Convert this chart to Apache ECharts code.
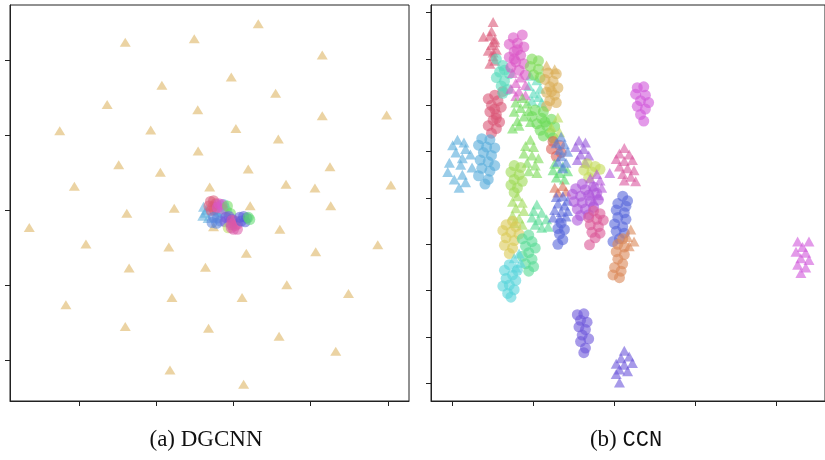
<!DOCTYPE html>
<html>
<head>
<meta charset="utf-8">
<script src="https://cdn.jsdelivr.net/npm/echarts@6/dist/echarts.min.js"></script>
<style>html,body{margin:0;padding:0;background:#fff}#c{width:825px;height:460px}</style>
</head>
<body>
<div id="c"></div>
<script>
// ---------- tick values ----------
const dgXTicks = [-40, -20, 0, 20, 40];
const dgYTicks = [-40, -20, 0, 20, 40];
const ccnXTicks = [-20, -10, 0, 10, 20];
const ccnYTicks = [-40, -30, -20, -10, 0, 10, 20, 30, 40];

// ---------- panel titles ----------
const titleA = ['(a) ', 'DGCNN'];
const titleB = ['(b) ', 'CCN'];

// ---------- (a) DGCNN data ----------
const dgTanTri = [
  [6.4,49.8],[-28.1,44.9],[-10.2,45.8],[23.0,41.5],[-0.6,35.6],[-18.6,33.4],[10.9,31.3],[-32.8,28.3],
  [-9.3,26.9],[23.0,25.3],[39.7,25.5],[-45.1,21.3],[-21.5,21.5],[0.6,21.9],[11.6,19.1],[-9.2,15.9],
  [-29.8,12.2],[25.0,11.7],[-19.0,10.2],[3.8,11.1],[-41.3,6.5],[-6.2,6.3],[13.6,7.0],[21.1,6.0],
  [40.8,6.8],[4.3,1.3],[25.2,1.3],[-27.7,-0.7],[-15.4,0.6],[-53.0,-4.5],[12.0,-5.0],[-5.2,-4.3],
  [-38.3,-8.9],[-16.8,-9.7],[37.4,-9.1],[3.3,-11.4],[21.3,-11.0],[-27.1,-15.3],[-7.3,-15.1],[13.8,-19.8],
  [29.8,-22.1],[-43.5,-25.1],[-16.0,-23.2],[2.2,-23.2],[-28.1,-30.9],[-6.5,-31.4],[11.8,-33.5],[26.5,-37.5],
  [-16.5,-42.5],[2.6,-46.3]
];
const dgLightBlueTri = [[-7.8,1.0],[-7.4,-0.6],[-6.6,-2.0],[-8.0,-1.4],[-7.0,0.2]];
const dgCyan = [[-3.4,1.2],[-2.4,0.8],[-4.2,-0.2],[-3.0,-0.6],[-1.8,-0.2],[-2.6,1.6]];
const dgRed = [[-6.0,2.4],[-5.2,2.6],[-6.4,1.2],[-5.4,1.0],[-4.6,1.8],[-5.8,0.0],[-5.0,0.2]];
const dgMagenta = [[-3.8,1.8],[-3.0,1.6],[-4.2,0.8],[-2.8,0.4]];
const dgLime = [[-1.6,1.2],[-0.8,-0.8]];
const dgBlue = [[-5.2,-1.8],[-4.2,-2.0],[-5.6,-3.2],[-4.4,-3.4],[-3.4,-2.8]];
const dgPurple = [[-2.0,-1.8],[-1.2,-1.6],[-2.2,-3.0],[-1.0,-3.2],[-0.4,-2.4]];
const dgYellow = [[-1.4,-4.6]];
const dgPink = [[-0.4,-2.6],[0.4,-2.8],[-0.6,-3.8],[0.4,-4.0],[1.0,-3.6],[0.0,-5.0],[1.0,-5.0],[-0.6,-4.6]];
const dgIndigo = [[1.6,-1.8],[2.6,-1.6],[3.4,-2.0],[2.0,-2.8],[3.0,-3.0]];
const dgGreen = [[3.8,-1.8],[4.2,-2.4]];

// ---------- (b) CCN data ----------
const ccnCrimsonTri = [[-15.0,38.0],[-16.2,34.8],[-15.4,35.0],[-14.8,34.2],[-15.2,33.0],[-14.6,32.0],[-15.6,31.8],[-15.0,30.6],[-14.8,29.6],[-15.4,29.0],[-15.0,31.4],[-14.8,33.6],[-15.2,36.0]];
const ccnCrimsonCirc = [[-13.8,23.0],[-14.8,22.2],[-15.6,21.4],[-14.4,21.0],[-15.2,20.0],[-14.0,19.6],[-15.4,18.6],[-14.6,18.0],[-15.0,16.8],[-14.2,16.4],[-15.6,15.6],[-14.6,15.0],[-15.2,14.0],[-14.8,19.2],[-14.6,17.2]];
const ccnTurqCirc = [[-14.6,30.0],[-13.8,28.6],[-14.2,27.2],[-13.0,26.8],[-14.6,26.0],[-13.6,25.2],[-14.0,24.2],[-13.2,23.4],[-13.8,22.6],[-13.6,27.6]];
const ccnTurqTri = [[-10.4,26.4],[-9.6,25.4],[-10.6,24.2],[-9.2,23.6],[-10.0,22.6],[-9.4,21.8],[-10.2,21.0],[-9.0,20.6]];
const ccnMagCirc = [[-12.5,34.6],[-11.4,35.2],[-13.0,33.2],[-12.0,33.4],[-11.2,32.6],[-12.4,31.6],[-13.0,30.4],[-11.6,30.8],[-12.2,29.4],[-11.2,29.0],[-12.8,28.2],[-11.8,27.6],[-11.0,26.6],[-12.0,32.0],[-12.4,30.0]];
const ccnMagTri = [[-12.6,27.0],[-11.6,26.0],[-12.2,24.8],[-11.0,24.4],[-12.8,23.6],[-11.8,23.0],[-11.0,22.2],[-12.2,22.0]];
const ccnLimeTopCirc = [[-10.2,30.0],[-9.4,29.6],[-10.4,28.4],[-9.4,27.8],[-10.0,26.6],[-9.2,26.0]];
const ccnTanCirc = [[-8.2,27.0],[-7.2,26.8],[-8.6,25.6],[-7.6,25.2],[-8.0,24.0],[-7.0,23.8],[-8.4,22.8],[-7.4,22.2],[-8.0,21.0],[-7.2,20.6],[-8.4,19.8],[-7.8,23.0]];
const ccnTanTri = [[-8.4,28.6],[-7.4,27.8]];
const ccnGreenTri = [[-11.4,21.6],[-12.2,20.6],[-10.8,20.4],[-11.6,19.4],[-12.4,18.6],[-10.6,18.8],[-11.2,17.6],[-12.0,16.6],[-10.4,16.4],[-11.8,15.6],[-12.6,15.0]];
const ccnGreenCirc = [[-9.8,19.0],[-8.8,18.6],[-10.2,17.6],[-9.0,17.2],[-7.8,17.0],[-9.6,16.0],[-8.4,15.6],[-7.4,15.4],[-9.2,14.6],[-8.0,14.0],[-8.8,13.4],[-7.6,13.0],[-8.6,16.4]];
const ccnYgTri = [[-7.0,17.4],[-7.8,15.2],[-6.8,14.2],[-7.4,12.8]];
const ccnSkyTri = [[-19.4,12.6],[-18.6,12.0],[-20.0,11.4],[-18.4,10.6],[-19.6,9.8],[-17.8,9.4],[-18.8,8.6],[-20.4,7.6],[-19.0,7.2],[-17.6,6.6],[-20.6,5.6],[-18.8,5.0],[-19.8,4.0],[-18.4,3.4],[-19.2,2.2]];
const ccnSkyCirc = [[-16.4,12.8],[-15.4,12.6],[-16.8,11.4],[-15.8,11.0],[-14.8,10.8],[-16.2,9.8],[-15.2,9.2],[-16.6,8.2],[-15.6,7.8],[-14.8,7.0],[-16.4,6.4],[-15.4,5.8],[-16.8,4.8],[-15.6,4.0],[-16.0,3.0]];
const ccnLimeTri = [[-10.4,12.6],[-11.0,11.2],[-10.0,11.0],[-11.2,9.6],[-10.2,9.2],[-9.4,8.6],[-10.8,7.6],[-9.8,7.0],[-10.6,5.8],[-9.6,5.4]];
const ccnRedOrCirc = [[-7.6,12.2],[-6.8,11.4],[-7.8,10.6],[-6.6,9.8],[-7.2,9.0]];
const ccnAzureTri = [[-6.6,13.2],[-7.2,11.8],[-6.2,11.6],[-6.8,10.4],[-5.8,10.0],[-6.6,9.0],[-7.0,7.8],[-6.0,7.6],[-6.4,6.4]];
const ccnEmeraldTri = [[-7.4,7.4],[-6.4,6.8],[-7.6,6.0],[-6.8,5.4],[-5.8,5.8],[-7.2,4.4],[-6.2,4.0]];
const ccnPurpleTri = [[-4.4,12.4],[-3.6,12.0],[-4.8,11.0],[-3.8,10.6],[-4.2,9.4],[-3.2,9.2],[-4.6,8.2],[-3.6,7.6]];
const ccnYgCirc = [[-3.4,7.4],[-2.4,6.8],[-3.8,6.0],[-2.8,5.6],[-1.8,6.2],[-3.2,4.4]];
const ccnVioletTri = [[-2.2,5.2],[-3.0,4.2],[-1.8,3.8],[-2.6,2.6],[-1.6,2.2],[-3.0,1.2],[-2.0,0.6],[-2.6,-0.6],[-0.6,5.4]];
const ccnPinkTri = [[1.2,10.8],[0.6,9.6],[1.8,9.4],[0.2,8.4],[1.2,8.0],[2.2,8.2],[0.6,6.8],[1.6,6.4],[2.4,6.0],[1.0,5.2],[2.0,4.6],[1.2,3.8],[2.6,3.6]];
const ccnChartCirc = [[-12.4,7.0],[-11.6,6.6],[-12.8,5.6],[-11.8,5.0],[-12.4,4.0],[-11.4,3.6],[-12.8,2.8],[-12.0,2.2],[-12.4,1.2]];
const ccnChartTri = [[-12.0,0.4],[-12.6,-0.8],[-11.4,-1.0],[-12.2,-2.2],[-11.2,-2.8],[-12.6,-3.8],[-11.8,-4.4],[-12.4,-5.4],[-11.4,-5.8]];
const ccnMintTri = [[-9.6,-1.4],[-10.0,-2.8],[-9.0,-3.2],[-10.2,-4.2],[-9.4,-4.8],[-8.4,-4.6],[-9.8,-5.8],[-9.0,-6.4],[-8.2,-6.2]];
const ccnSalmonTri = [[-7.4,2.2],[-6.4,2.6],[-7.0,1.2],[-6.0,1.4]];
const ccnBlueTri = [[-7.2,0.2],[-6.4,0.4],[-5.8,-0.6],[-7.0,-1.2],[-6.2,-1.6],[-7.4,-2.6],[-6.6,-3.0],[-5.8,-2.8],[-7.6,-4.2],[-6.8,-4.4],[-6.0,-4.0]];
const ccnBlueCirc = [[-6.6,-5.4],[-7.0,-6.6],[-6.2,-6.8],[-6.8,-7.8],[-6.4,-9.0],[-7.0,-10.0]];
const ccnVioletCirc = [[-4.0,3.0],[-4.8,2.0],[-3.6,1.8],[-2.6,2.4],[-5.2,0.8],[-4.2,0.4],[-3.2,0.6],[-2.2,1.0],[-5.0,-0.8],[-4.0,-1.0],[-3.0,-0.8],[-2.0,-0.4],[-4.6,-2.4],[-3.6,-2.4],[-2.6,-2.0],[-4.2,-3.8],[-3.2,-3.6],[-4.6,-4.8]];
const ccnPinkCirc = [[-2.6,-2.8],[-1.8,-3.4],[-3.2,-4.2],[-2.2,-4.6],[-1.4,-4.8],[-3.0,-5.8],[-2.0,-6.2],[-2.8,-7.4],[-1.8,-7.6],[-2.4,-8.6],[-3.1,-10.1]];
const ccnRoyalCirc = [[1.0,0.4],[1.6,-0.6],[0.4,-1.2],[1.4,-1.8],[0.2,-2.6],[1.2,-3.2],[0.4,-4.2],[1.4,-4.6],[0.0,-5.6],[1.0,-6.2],[0.2,-7.2],[1.2,-7.6],[0.6,-8.8],[-0.2,-9.4]];
const ccnOrangeTri = [[2.0,-6.8],[1.6,-8.4],[2.4,-9.4],[1.8,-10.4]];
const ccnOrangeCirc = [[1.0,-8.8],[0.4,-10.0],[1.2,-10.6],[0.2,-11.6],[1.2,-12.2],[0.4,-13.2],[1.0,-14.2],[0.0,-15.0],[0.8,-15.8],[-0.2,-16.6],[0.6,-17.2]];
const ccnYellowCirc = [[-12.6,-5.0],[-13.4,-5.8],[-12.2,-6.2],[-13.8,-7.0],[-12.8,-7.4],[-11.8,-7.8],[-13.4,-8.6],[-12.4,-9.2],[-13.6,-10.2],[-12.6,-10.8],[-13.0,-12.0]];
const ccnMintCirc = [[-10.6,-8.0],[-11.4,-8.8],[-10.2,-9.4],[-11.0,-10.4],[-9.8,-10.8],[-10.6,-11.8],[-11.4,-12.6],[-10.2,-13.2],[-11.0,-14.2],[-10.0,-14.8],[-10.6,-15.8]];
const ccnCyanTri = [[-11.8,-12.0],[-12.4,-13.0],[-11.6,-14.0],[-12.2,-15.0]];
const ccnCyanCirc = [[-13.0,-14.4],[-12.0,-15.6],[-13.6,-15.6],[-12.6,-16.6],[-13.4,-17.4],[-12.2,-17.8],[-13.0,-18.8],[-13.8,-19.0],[-12.4,-19.8],[-13.2,-20.6],[-12.8,-21.4]];
const ccnIndigoCirc = [[-4.6,-25.2],[-3.8,-25.0],[-4.2,-26.4],[-3.4,-26.8],[-4.4,-27.8],[-3.6,-28.4],[-4.0,-29.6],[-3.2,-30.4],[-4.2,-31.0],[-3.6,-32.4],[-3.8,-33.4]];
const ccnIndigoTri = [[1.2,-33.0],[0.8,-34.6],[1.8,-34.2],[0.2,-35.8],[1.2,-36.0],[2.2,-35.6],[0.6,-37.0],[1.6,-37.4],[0.2,-38.0],[0.6,-39.8]];
const ccnOrchidCirc = [[2.8,23.8],[3.6,24.0],[2.6,22.4],[3.8,22.2],[3.2,21.0],[4.2,20.6],[2.8,19.8],[3.8,19.2],[3.2,18.0],[3.6,16.6]];
const ccnOrchidTri = [[22.6,-9.4],[24.0,-9.4],[23.2,-10.6],[22.4,-11.6],[23.6,-11.8],[23.0,-13.0],[24.0,-13.4],[22.6,-14.4],[23.6,-15.0],[23.0,-16.2]];

// ---------- styling (not data) ----------
const CIRC = 'circle', TRI = 'triangle';
const CS = 11, TS = [11, 10];
const dgLayers = [
  [dgTanTri, TRI, '#dbae57', [11, 9]],
  [dgLightBlueTri, TRI, '#57acdb', TS],
  [dgCyan, CIRC, '#57d3db', CS],
  [dgRed, CIRC, '#db5777', CS],
  [dgMagenta, CIRC, '#db57c6', CS],
  [dgLime, CIRC, '#6adb57', CS],
  [dgBlue, CIRC, '#5784db', CS],
  [dgPurple, CIRC, '#7957db', CS],
  [dgYellow, CIRC, '#b9db57', CS],
  [dgPink, CIRC, '#db57a8', CS],
  [dgIndigo, CIRC, '#575cdb', CS],
  [dgGreen, CIRC, '#57db6c', CS]
];
const ccnLayers = [
  [ccnCrimsonTri, TRI, '#db5777', TS],
  [ccnCrimsonCirc, CIRC, '#db5777', CS],
  [ccnTurqCirc, CIRC, '#57dbbb', CS],
  [ccnTurqTri, TRI, '#57dbbb', TS],
  [ccnMagCirc, CIRC, '#db57c6', CS],
  [ccnMagTri, TRI, '#db57c6', TS],
  [ccnLimeTopCirc, CIRC, '#7ddb57', CS],
  [ccnTanCirc, CIRC, '#dbae57', CS],
  [ccnTanTri, TRI, '#dbae57', TS],
  [ccnGreenTri, TRI, '#6adb57', TS],
  [ccnGreenCirc, CIRC, '#6adb57', CS],
  [ccnYgTri, TRI, '#b9db57', TS],
  [ccnSkyTri, TRI, '#57acdb', TS],
  [ccnSkyCirc, CIRC, '#57acdb', CS],
  [ccnLimeTri, TRI, '#7ddb57', TS],
  [ccnRedOrCirc, CIRC, '#db5f57', CS],
  [ccnEmeraldTri, TRI, '#57db6c', TS],
  [ccnAzureTri, TRI, '#5784db', TS],
  [ccnPurpleTri, TRI, '#9457db', TS],
  [ccnYgCirc, CIRC, '#c3db57', CS],
  [ccnVioletTri, TRI, '#b457db', TS],
  [ccnPinkTri, TRI, '#db579e', TS],
  [ccnChartCirc, CIRC, '#9fdb57', CS],
  [ccnChartTri, TRI, '#9fdb57', TS],
  [ccnMintTri, TRI, '#57db94', TS],
  [ccnSalmonTri, TRI, '#db6f57', TS],
  [ccnBlueTri, TRI, '#5766db', TS],
  [ccnBlueCirc, CIRC, '#5766db', CS],
  [ccnVioletCirc, CIRC, '#ad57db', CS],
  [ccnPinkCirc, CIRC, '#db5796', CS],
  [ccnRoyalCirc, CIRC, '#5766db', CS],
  [ccnOrangeTri, TRI, '#db8757', TS],
  [ccnOrangeCirc, CIRC, '#db8757', CS],
  [ccnYellowCirc, CIRC, '#dbc957', CS],
  [ccnMintCirc, CIRC, '#57db94', CS],
  [ccnCyanTri, TRI, '#57d3db', TS],
  [ccnCyanCirc, CIRC, '#57d3db', CS],
  [ccnIndigoCirc, CIRC, '#6d57db', CS],
  [ccnIndigoTri, TRI, '#6d57db', TS],
  [ccnOrchidCirc, CIRC, '#d057db', CS],
  [ccnOrchidTri, TRI, '#d057db', TS]
];

function mkSeries(layers, idx, op) {
  return layers.map(([data, sym, color, size]) => ({
    type: 'scatter', xAxisIndex: idx, yAxisIndex: idx, data: data,
    symbol: sym, symbolSize: size, silent: true,
    itemStyle: { color: color, opacity: op, borderWidth: 0 }
  }));
}
function mkAxis(idx, min, max, ticks) {
  return {
    type: 'value', gridIndex: idx, min: min, max: max,
    axisLine: { show: true, onZero: false, lineStyle: { color: '#222', width: 1 } },
    axisTick: { show: true, inside: false, length: 5, customValues: ticks, lineStyle: { color: '#222', width: 1 } },
    axisLabel: { show: false }, splitLine: { show: false }
  };
}

const chart = echarts.init(document.getElementById('c'), null, { renderer: 'canvas' });
chart.setOption({
  animation: false,
  backgroundColor: '#fff',
  grid: [
    { left: 10, top: 5, width: 399, height: 396, show: true, borderColor: '#222', borderWidth: 1 },
    { left: 431, top: 5, width: 396, height: 396, show: true, borderColor: '#222', borderWidth: 1 }
  ],
  xAxis: [mkAxis(0, -58, 45.5, dgXTicks), mkAxis(1, -22.67, 25.98, ccnXTicks)],
  yAxis: [mkAxis(0, -50.8, 54.8, dgYTicks), mkAxis(1, -43.82, 41.66, ccnYTicks)],
  series: mkSeries(dgLayers, 0, 0.55).concat(mkSeries(ccnLayers, 1, 0.6)),
  graphic: [
    { type: 'text', x: 206, y: 440, style: {
        text: '{s|' + titleA[0] + '}{s|' + titleA[1] + '}', textAlign: 'center', textVerticalAlign: 'middle',
        rich: { s: { fontFamily: 'Liberation Serif', fontSize: 23, fill: '#111' } } } },
    { type: 'text', x: 626, y: 440, style: {
        text: '{s|' + titleB[0] + '}{m|' + titleB[1] + '}', textAlign: 'center', textVerticalAlign: 'middle',
        rich: { s: { fontFamily: 'Liberation Serif', fontSize: 23, fill: '#111' },
                m: { fontFamily: 'Liberation Mono', fontSize: 22, fill: '#111' } } } }
  ]
});
</script>
</body>
</html>
